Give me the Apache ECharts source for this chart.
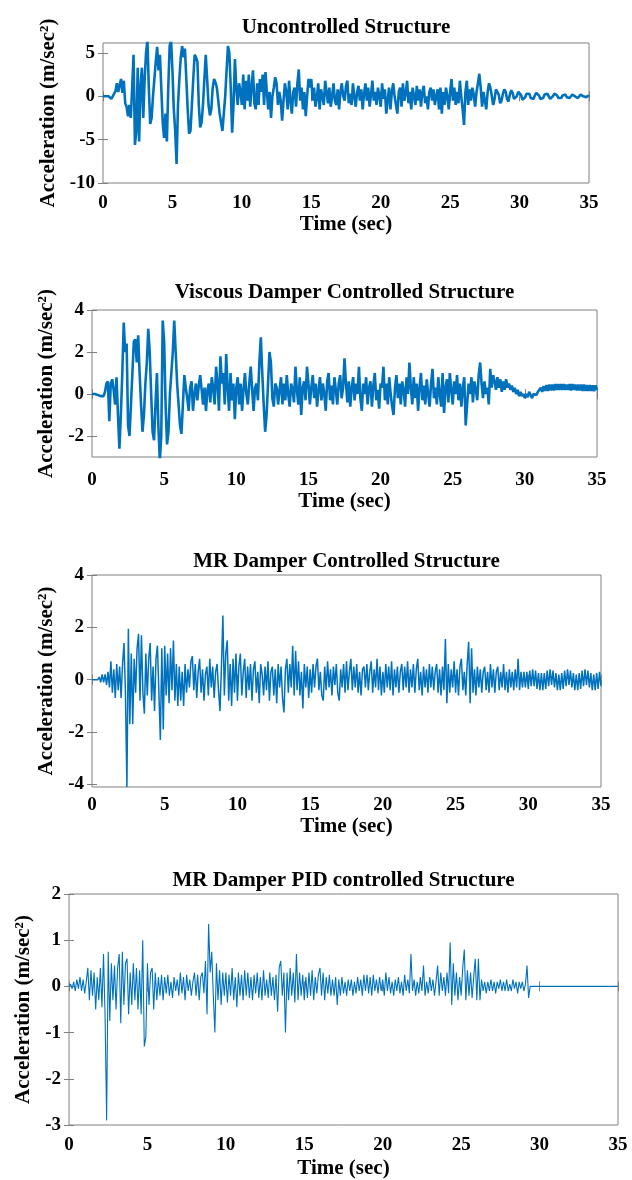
<!DOCTYPE html>
<html>
<head>
<meta charset="utf-8">
<title>Acceleration response</title>
<script src="https://cdn.jsdelivr.net/npm/echarts@6/dist/echarts.min.js"></script>
<style>
  html, body { margin: 0; padding: 0; background: #fff; }
  #main { width: 632px; height: 1180px; }
</style>
</head>
<body>
<div id="main"></div>
<script>
// sampling step of all records (sec)
var timeStep = 0.1;

// Uncontrolled Structure, 0..35 s
var uncontrolled = [
  0, 0, 0, 0.1, 0, 0.2, -0.3, 0, 0.3, 0.6,
  1.5, 0.5, 1.3, 2.0, 0.4, 1.8, -0.8, -1.2, -2.3, -1.0,
  -2.5, 1.0, 4.8, -5.6, -4.0, 3.3, -5.2, 1.0, 3.3, -2.5,
  2.0, 5.0, 6.5, 1.0, -3.2, -2.5, 0.0, 2.0, 4.0, 5.7,
  3.0, 4.8, 5.0, -3.0, -4.8, -2.0, -5.2, 1.0, 5.8, 6.5,
  3.0, -1.5, -4.0, -7.8, -1.0, 2.0, 4.5, 5.8, 4.5, 5.5,
  2.0, -1.5, -4.3, -4.0, -1.0, 2.0, 4.8, 4.5, 4.0, -1.0,
  -3.6, -3.0, -1.0, 2.0, 4.8, 2.0, -1.0, -2.2, -1.5, 1.0,
  2.0, 1.6, 1.0, -0.5, -2.0, -3.0, -4.0, -2.0, 0.0, 3.0,
  5.8, 5.0, 1.0, -4.2, -1.0, 4.3, 1.0, -1.0, 1.5, 0.5,
  -1.0, 2.5, -1.5, 1.8, -0.5, 2.5, -1.2, 1.0, 3.0, -0.8,
  -1.5, 1.5, -1.0, 2.0, 0.5, 2.5, -1.0, 2.8, 0.5, -1.5,
  0.5, -2.5, 0.0, 1.0, 2.2, 1.5, -1.0, 0.5, -0.5, -2.8,
  -0.5, 1.5, 0.5, -1.5, 1.8, -0.5, -2.0, 0.5, 1.0, -1.2,
  1.5, 3.1, -0.5, 1.0, -1.5, 0.5, -2.3, 0.0, 2.0, 1.0,
  2.0, -0.5, 1.0, -1.2, -0.2, 1.5, -1.5, 0.8, 0.0, -1.0,
  1.8, 0.5, -0.8, 1.0, -1.2, 0.0, 1.5, -0.5, -1.0, 0.8,
  -1.5, 0.5, 1.5, 0.0, -0.5, 1.2, 1.8, -0.8, 0.3, -1.0,
  1.5, 0.0, -1.2, 0.5, 1.2, -0.5, 0.8, -1.5, 0.3, 1.5,
  -0.5, 1.0, -1.2, 0.2, 1.8, -0.5, 0.5, -1.0, 1.0, 0.0,
  -1.2, 1.5, -0.3, 0.8, -2.0, -0.5, 1.0, -1.5, 0.5, 1.5,
  0.0, -1.0, -2.0, 0.5, 1.0, -1.2, 1.5, -0.5, 0.3, 1.8,
  -0.8, 0.5, -1.5, 1.0, 0.0, -1.0, 1.2, -0.5, 0.8, -1.2,
  0.5, 1.2, -0.8, 0.0, -1.5, 0.5, 1.0, -0.5, 0.8, -1.0,
  0.0, 0.8, -1.5, 1.0, -2.0, 0.5, -1.0, 1.0, 0.0, -1.5,
  0.5, 2.0, -0.5, 1.0, -1.0, 0.5, -0.8, 1.8, 0.0, -1.5,
  -3.3, 0.5, 1.8, -1.0, 0.8, -0.5, 1.0, 0.2, -1.2, 0.5,
  1.5, 2.6, 1.0, -1.2, 0.5, -0.5, -1.5, 0.5, 1.5, 1.0,
  0.0, -1.0, -0.3, 0.8, 1.0, 0.2, -0.8, -0.5, 0.3, 0.8,
  0.5, -0.3, -0.6, 0.2, 0.7, 0.4, -0.3, -0.5, 0.0, 0.5,
  0.6, 0.2, -0.4, -0.5, -0.1, 0.3, 0.5, 0.3, -0.2, -0.4,
  -0.3, 0.1, 0.4, 0.4, 0.1, -0.3, -0.4, -0.2, 0.2, 0.4,
  0.3, 0.0, -0.3, -0.3, 0.0, 0.3, 0.3, 0.1, -0.2, -0.3,
  -0.2, 0.1, 0.3, 0.2, -0.1, -0.3, -0.2, 0.0, 0.2, 0.2,
  0.0, -0.2, -0.2, 0.0, 0.2, 0.2, 0.0, -0.1, -0.1, 0.0,
  0.1
];

// Viscous Damper Controlled Structure
var viscous = [
  0, 0, 0, 0, -0.05, -0.1, -0.1, -0.05, -0.1, 0.1,
  0.5, 0.6, -1.3, 0.5, 0.7, 0.2, -0.5, 0.8, -1.0, -2.6,
  -1.0, 1.0, 3.4, 2.0, 2.4, -1.5, -2.0, -0.5, 1.0, 2.5,
  2.6, 1.5, 2.8, 1.0, -0.5, -1.8, -1.0, 0.5, 1.5, 3.1,
  2.0, 0.0, -1.8, -2.2, -0.5, 1.0, -1.5, -3.2, -2.0, 3.5,
  2.5, -0.5, -2.4, -1.8, 0.0, 1.0, 2.0, 3.5, 2.0, 0.5,
  -0.5, -1.5, -1.9, -0.5, 0.9, 0.3, -0.2, -0.8, 0.3, 0.6,
  -0.8, 0.0, 0.5, -0.3, 0.4, 0.9, 0.2, -0.5, 0.3, -0.8,
  0.2, 0.5, -0.4, 0.8, 0.3, -0.5, 1.3, 0.5, -0.8, 1.8,
  0.5, 1.0, -0.5, 1.9, 0.3, -0.8, 1.0, -0.3, 0.5, -1.2,
  0.3, 0.8, -0.5, 0.5, -0.8, 0.2, 1.0, 0.0, -0.5, 0.5,
  1.3, 0.2, -0.8, 0.3, 0.5, -0.3, 1.5, 2.7, 1.0, -0.5,
  -1.8, -1.0, 0.5, 2.0, 1.5, -0.2, -0.6, 0.5, 0.3, -0.5,
  0.2, 0.8, -0.5, 0.5, -0.3, 0.9, 0.0, -0.6, 0.5, 0.2,
  -0.4, 1.3, 0.2, -0.5, 0.8, -1.0, 0.3, 0.6, -0.3, 1.3,
  0.5, -0.5, 0.3, 0.9, -0.2, 0.5, -0.6, 0.2, 0.8, -0.3,
  0.5, 0.0, -0.8, 0.6, 1.0, -0.3, 0.4, -0.5, 0.8, 0.2,
  -0.5, 0.5, 0.9, -0.2, 0.3, 1.7, 0.5, -0.4, 0.6, -0.6,
  0.3, 0.8, -0.3, 0.5, 0.0, 1.3, -0.2, -0.8, 0.5, 0.0,
  0.8, -0.5, 0.3, 0.6, -0.6, 0.4, 1.0, -0.3, 0.2, -0.7,
  0.5, 0.3, 1.3, -0.3, 0.5, -0.5, 0.8, 0.0, -0.6, -1.0,
  0.3, 0.9, -0.2, 0.5, -0.5, 0.6, 0.2, -0.6, 0.8, 0.0,
  1.5, 0.3, -0.5, 0.8, -0.2, 0.5, -0.8, 0.3, 1.0, -0.3,
  0.4, -0.5, 0.7, 0.0, -0.6, 0.5, 1.2, -0.2, 0.3, -0.5,
  0.8, 0.0, -0.6, 1.0, -0.9, 0.3, 0.7, -0.4, 1.0, 0.2,
  -0.5, 0.6, 0.0, 0.9, -0.3, 0.5, -0.6, 0.3, 0.8, -1.5,
  -0.5, 0.5, 0.0, 0.8, -0.4, 0.6, 0.2, -0.3, 0.9, 1.5,
  0.5, -0.2, 0.6, 0.0, 0.3, -0.5, 1.2, 0.3, 0.9, 0.6,
  0.2, 0.8, 0.3, 0.7, 0.1, 0.6, 0.2, 0.7, 0.3, 0.5,
  0.2, 0.4, 0.1, 0.3, 0.0, 0.2, -0.1, 0.1, -0.1, 0.0,
  -0.2, 0.0, -0.15, 0.1, -0.05, -0.2, 0.0, 0.05, -0.05, 0.1,
  0.1, 0.3, 0.1, 0.38, 0.15, 0.42, 0.15, 0.45, 0.17, 0.45,
  0.17, 0.47, 0.19, 0.47, 0.19, 0.47, 0.19, 0.47, 0.19, 0.45,
  0.19, 0.47, 0.17, 0.47, 0.19, 0.45, 0.17, 0.45, 0.17, 0.45,
  0.15, 0.45, 0.15, 0.43, 0.15, 0.43, 0.15, 0.41, 0.13, 0.41,
  0.2
];

// MR Damper Controlled Structure
var mrDamper = [
  0, 0, 0, 0.05, 0, 0.1, -0.1, 0.2, -0.1, 0.2,
  -0.2, 0.3, -0.3, 0.7, -0.5, 0.4, -0.7, 0.6, -0.4, 0.5,
  -0.7, 0.6, 1.4, -0.5, -4.1, 1.95, -1.7, 1.0, -1.7, 0.8,
  -0.5, 1.2, 1.75, -0.8, 1.7, -0.5, -1.3, 1.0, -0.6, 0.8,
  1.4, -0.8, 0.5, -1.2, 0.8, 1.3, -0.5, -2.3, 1.2, -1.9,
  1.3, -0.6, 1.0, -0.9, 1.2, -0.4, 1.5, -0.8, 0.6, -1.0,
  0.5, -0.8, 0.3, -1.0, 0.6, -0.5, 0.4, -0.3, 0.7, 0.9,
  -0.4, 0.6, -0.7, 0.3, 0.8, -0.5, 0.4, -0.8, 0.2, 0.5,
  -0.6, 0.8, -0.3, 0.5, -0.7, 0.3, 0.6, -0.4, -1.2, 0.5,
  2.45, -0.6, 1.0, 1.5, -0.8, 0.6, -1.0, 0.8, -0.5, 1.0,
  -0.8, 0.5, 1.0, -0.6, 0.3, 0.8, -0.7, 0.5, -0.4, 0.6,
  -0.8, 0.4, 0.7, -0.5, 0.3, -0.9, 0.6, 0.2, -0.6, 0.5,
  -0.4, 0.7, -0.8, 0.3, 0.5, -0.6, 0.4, -0.9, 0.6, -0.3,
  0.5, -0.7, -1.25, 0.4, 0.8, -0.5, 0.6, -0.3, 1.3, -0.6,
  1.1, -0.4, 0.7, -0.6, 0.3, -1.1, 0.6, -0.3, 0.5, -0.7,
  0.4, -0.5, 0.6, -0.3, 0.5, 0.8, -0.4, 0.3, -0.6, -0.8,
  0.5, -0.4, 0.7, -0.3, 0.4, -0.6, 0.5, -0.2, 0.6, -0.5,
  -0.8, 0.4, -0.3, 0.6, -0.5, 0.7, -0.4, 0.3, 0.8, -0.4,
  0.5, -0.3, 0.6, -0.5, 0.3, -0.6, 0.4, 0.5, -0.3, 0.6,
  -0.4, 0.3, 0.7, -0.5, 0.4, -0.3, 0.8, -0.4, 0.5, -0.6,
  0.3, -0.5, 0.6, -0.3, 0.5, -0.4, 0.7, -0.6, 0.4, -0.3,
  0.5, -0.5, 0.3, 0.6, -0.4, 0.5, -0.3, 0.7, -0.5, 0.4,
  -0.3, 0.6, -0.5, 0.4, 0.8, -0.4, 0.3, -0.6, 0.5, -0.3,
  0.4, -0.5, 0.6, -0.3, 0.5, -0.4, 0.3, 0.6, -0.5, 0.4,
  -0.6, 0.5, -0.4, 1.55, -0.9, 0.6, -0.5, 0.4, -0.3, 0.7,
  -0.5, 0.4, -0.6, 0.5, 0.8, -0.4, 0.3, -0.6, 0.6, 1.45,
  -0.9, 1.2, -0.5, 0.4, -0.6, 0.5, -0.3, 0.4, -0.5, 0.3,
  0.5, -0.4, 0.3, -0.5, 0.6, -0.3, 0.4, -0.5, 0.3, 0.5,
  -0.4, 0.3, -0.3, 0.6, -0.4, 0.3, -0.5, 0.4, -0.3, 0.3,
  -0.4, 0.4, -0.3, 0.8, -0.4, 0.3, -0.3, 0.3, -0.3, 0.3,
  -0.35, 0.35, -0.25, 0.4, -0.25, 0.35, -0.35, 0.25, -0.4, 0.25,
  -0.4, 0.25, -0.35, 0.35, -0.25, 0.4, -0.2, 0.35, -0.3, 0.25,
  -0.4, 0.2, -0.4, 0.25, -0.35, 0.35, -0.25, 0.4, -0.2, 0.35,
  -0.3, 0.25, -0.4, 0.2, -0.4, 0.25, -0.35, 0.35, -0.25, 0.4,
  -0.2, 0.35, -0.3, 0.25, -0.4, 0.2, -0.4, 0.25, -0.35, 0.3,
  -0.25
];

// MR Damper PID controlled Structure
var mrPid = [
  0, 0.05, -0.05, 0.1, -0.1, 0.15, -0.05, 0.2, -0.1, 0.15,
  -0.15, 0.1, 0.4, -0.3, 0.35, -0.2, 0.3, -0.5, 0.2, -0.3,
  0.4, -0.45, 0.7, -0.65, -2.9, 0.75, -0.75, 0.5, -0.3, 0.45,
  -0.5, 0.4, 0.7, -0.8, 0.75, -0.4, 0.5, 0.6, -0.6, 0.3,
  -0.4, 0.5, -0.3, 0.4, -0.5, 0.35, -0.6, 1.0, -1.3, -1.1,
  0.5, -0.4, 0.3, 0.4, -0.5, 0.3, -0.3, 0.2, -0.2, 0.25,
  -0.3, 0.2, -0.15, 0.25, -0.2, 0.1, -0.25, 0.2, -0.1, 0.15,
  -0.2, 0.3, -0.15, 0.2, -0.3, 0.25, -0.1, 0.15, -0.2, 0.1,
  0.3, -0.2, 0.25, -0.3, 0.2, 0.3, -0.15, 0.55, -0.6, 1.35,
  0.3, 0.75, -0.2, -1.0, 0.5, -0.3, 0.35, -0.4, 0.3, -0.2,
  0.3, -0.35, 0.25, -0.2, 0.4, -0.3, 0.2, -0.45, 0.3, -0.2,
  0.25, -0.3, 0.35, -0.2, 0.3, -0.25, 0.2, -0.3, 0.25, -0.15,
  0.3, -0.25, 0.2, -0.3, 0.35, -0.2, 0.15, -0.25, 0.3, -0.2,
  0.2, -0.3, 0.25, -0.55, 0.4, 0.55, -0.2, 0.3, -1.0, 0.3,
  -0.3, 0.4, -0.2, 0.3, -0.35, 0.7, -0.3, 0.3, -0.2, 0.25,
  -0.3, 0.2, -0.25, 0.3, -0.2, 0.35, -0.3, 0.2, -0.15, 0.25,
  0.4, -0.2, 0.3, -0.3, 0.2, -0.15, 0.25, -0.2, 0.15, -0.2,
  0.2, -0.4, 0.15, -0.2, 0.2, -0.15, 0.1, -0.2, 0.15, -0.1,
  0.15, -0.2, 0.1, -0.15, 0.2, -0.1, 0.15, -0.2, 0.25, -0.1,
  0.25, -0.15, 0.2, -0.2, 0.25, -0.1, 0.15, -0.15, 0.2, -0.1,
  0.15, -0.2, 0.3, -0.1, 0.2, -0.15, 0.1, -0.2, 0.15, -0.1,
  0.2, -0.15, 0.1, -0.2, 0.25, -0.1, 0.15, -0.15, 0.7, -0.1,
  0.15, -0.2, 0.1, -0.15, 0.2, -0.1, 0.45, -0.2, 0.1, -0.15,
  0.2, -0.1, 0.15, -0.2, 0.1, 0.45, -0.2, 0.3, -0.1, 0.2,
  -0.2, 0.3, -0.15, 0.95, -0.4, 0.5, -0.2, 0.3, -0.3, 0.2,
  -0.2, 0.4, 0.8, -0.3, 0.35, -0.2, 0.3, -0.25, 0.2, 0.6,
  -0.3, 0.6, -0.3, 0.15, -0.1, 0.1, -0.15, 0.1, -0.1, 0.15,
  -0.1, 0.1, -0.15, 0.1, -0.05, 0.15, -0.1, 0.1, -0.1, 0.15,
  -0.1, 0.05, -0.1, 0.15, -0.05, 0.1, -0.15, 0.1, -0.05, 0.1,
  -0.1, 0.05, 0.45, -0.25, 0, 0, 0, 0, 0, 0,
  0, 0, 0, 0, 0, 0, 0, 0, 0, 0,
  0, 0, 0, 0, 0, 0, 0, 0, 0, 0,
  0, 0, 0, 0, 0, 0, 0, 0, 0, 0,
  0, 0, 0, 0, 0, 0, 0, 0, 0, 0,
  0, 0, 0, 0, 0, 0, 0, 0, 0, 0,
  0
];

var titles = [
  'Uncontrolled Structure',
  'Viscous Damper Controlled Structure',
  'MR Damper Controlled Structure',
  'MR Damper PID controlled Structure'
];
var yRange = [[-10, 6.15], [-3, 4], [-4.1, 4], [-3, 2]];
var yTicks = [[-10, -5, 0, 5], [-2, 0, 2, 4], [-4, -2, 0, 2, 4], [-3, -2, -1, 0, 1, 2]];

var lineColor = '#0072BD';
var boxColor = '#808080';
var fontName = '"Liberation Serif", "Times New Roman", serif';

// panel layout
var panels = [
  {left: 103, top: 43, width: 486, height: 140, lw: 2.6, xGap: 28, xMargin: 11, yGap: 37, titleY: 28},
  {left: 92, top: 310, width: 505, height: 147, lw: 2.6, xGap: 34, xMargin: 14, yGap: 27, titleY: 293},
  {left: 92, top: 575, width: 509, height: 212, lw: 1.5, xGap: 29, xMargin: 9, yGap: 27, titleY: 562},
  {left: 69, top: 894, width: 549, height: 233, lw: 1.1, xGap: 33, xMargin: 11, yGap: 31, titleY: 881}
];

function toPairs(vals){
  var res = [];
  for(var i = 0; i < vals.length; i++){
    res.push([+(i * timeStep).toFixed(2), vals[i]]);
  }
  return res;
}

window.onload = function(){
  var chart = echarts.init(document.getElementById('main'));
  var records = [uncontrolled, viscous, mrDamper, mrPid];
  var grid = [], xAxis = [], yAxis = [], series = [], graphic = [];
  var tickStyle = {inside: true, length: 5, lineStyle: {color: boxColor, width: 1}};
  var labelFont = {fontFamily: fontName, fontWeight: 'bold', fontSize: 19, color: '#000'};
  var nameFont = {fontFamily: fontName, fontWeight: 'bold', fontSize: 21, color: '#000'};

  for(var i = 0; i < panels.length; i++){
    var p = panels[i];
    grid.push({
      left: p.left, top: p.top, width: p.width, height: p.height,
      show: true, borderColor: boxColor, borderWidth: 1, containLabel: false
    });
    // bottom and top x axes
    xAxis.push({
      type: 'value', gridIndex: i, min: 0, max: 35, interval: 5,
      axisLine: {show: false}, splitLine: {show: false}, axisTick: tickStyle,
      axisLabel: Object.assign({margin: p.xMargin}, labelFont),
      name: 'Time (sec)', nameLocation: 'middle', nameGap: p.xGap,
      nameTextStyle: nameFont
    });
    xAxis.push({
      type: 'value', gridIndex: i, position: 'top', min: 0, max: 35, interval: 5,
      axisLine: {show: false}, splitLine: {show: false}, axisTick: tickStyle,
      axisLabel: {show: false}
    });
    // left and right y axes
    yAxis.push({
      type: 'value', gridIndex: i, min: yRange[i][0], max: yRange[i][1],
      axisLine: {show: false}, splitLine: {show: false},
      axisTick: Object.assign({customValues: yTicks[i]}, tickStyle),
      axisLabel: Object.assign({customValues: yTicks[i], margin: 8}, labelFont),
      name: 'Acceleration (m/sec²)', nameLocation: 'middle', nameRotate: 90,
      nameGap: p.yGap, nameTextStyle: nameFont
    });
    yAxis.push({
      type: 'value', gridIndex: i, position: 'right', min: yRange[i][0], max: yRange[i][1],
      axisLine: {show: false}, splitLine: {show: false},
      axisTick: Object.assign({customValues: yTicks[i]}, tickStyle),
      axisLabel: {show: false}
    });
    series.push({
      type: 'line', xAxisIndex: 2 * i, yAxisIndex: 2 * i,
      data: toPairs(records[i]), showSymbol: false, clip: true,
      lineStyle: {color: lineColor, width: p.lw}
    });
    graphic.push({
      type: 'text', x: p.left + p.width / 2, y: p.titleY,
      style: {
        text: titles[i], fill: '#000',
        font: 'bold 21px ' + fontName,
        align: 'center', verticalAlign: 'middle',
        textAlign: 'center', textVerticalAlign: 'middle'
      }
    });
  }

  chart.setOption({
    animation: false,
    backgroundColor: '#fff',
    grid: grid,
    xAxis: xAxis,
    yAxis: yAxis,
    series: series,
    graphic: graphic
  });
};
</script>
</body>
</html>
